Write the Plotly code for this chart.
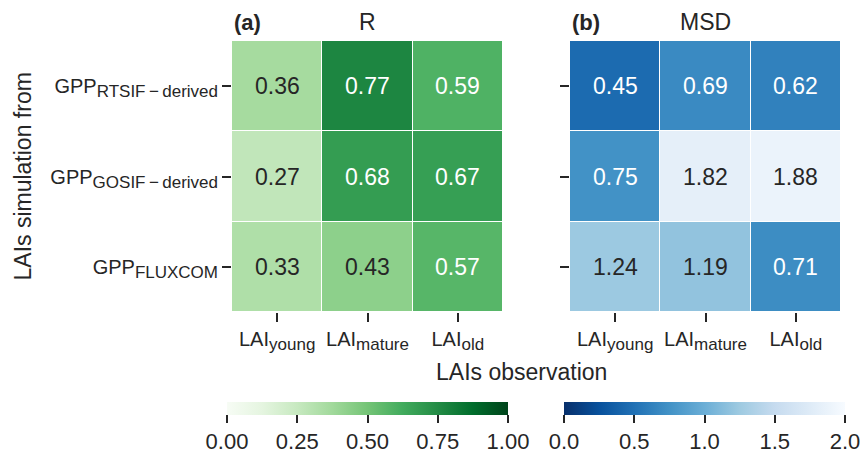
import plotly.graph_objects as go

SUB = "<sub><span style='font-size:17px'>{}</span></sub>"
cols = ["LAI" + SUB.format("young"), "LAI" + SUB.format("mature"), "LAI" + SUB.format("old")]
rows = ["GPP" + SUB.format("RTSIF\u2009\u2212\u2009derived"), "GPP" + SUB.format("GOSIF\u2009\u2212\u2009derived"),
        "GPP" + SUB.format("FLUXCOM")]
R_vals = [[0.36, 0.77, 0.59],
          [0.27, 0.68, 0.67],
          [0.33, 0.43, 0.57]]
MSD_vals = [[0.45, 0.69, 0.62],
            [0.75, 1.82, 1.88],
            [1.24, 1.19, 0.71]]

W, H = 865, 457
L, Rm, T, B = 232, 24, 41, 145
pw = W - L - Rm
ph = H - T - B
FONT = "Liberation Sans, Arial, sans-serif"
DARK = "#262626"


def cbar(cx, length, dtick, fmt):
    return dict(orientation="h", x=(cx - L) / pw, xanchor="center", lenmode="pixels", len=length,
                y=(T + ph - 402) / ph, yanchor="top", thicknessmode="pixels", thickness=13,
                xpad=0, ypad=0, outlinewidth=0, ticks="outside", ticklen=8,
                tickcolor=DARK, tickwidth=1.5, tick0=0, dtick=dtick, tickformat=fmt,
                tickfont=dict(size=22, color=DARK, family=FONT))


fig = go.Figure()
fig.add_trace(go.Heatmap(
    z=R_vals, x=cols, y=rows, colorscale="Greens", zmin=0, zmax=1,
    xgap=1, ygap=1, xaxis="x", yaxis="y", hoverinfo="skip",
    colorbar=cbar((227 + 508) / 2, 281, 0.25, ".2f"),
))
fig.add_trace(go.Heatmap(
    z=MSD_vals, x=cols, y=rows, colorscale="Blues_r", zmin=0, zmax=2,
    xgap=1, ygap=1, xaxis="x2", yaxis="y2", hoverinfo="skip",
    colorbar=cbar((564 + 845) / 2, 281, 0.5, ".1f"),
))

anns = []
for i, r in enumerate(rows):
    for j, c in enumerate(cols):
        v = R_vals[i][j]
        anns.append(dict(x=c, y=r, xref="x", yref="y", text=f"{v:.2f}", showarrow=False,
                         font=dict(size=23, family=FONT, color="white" if v > 0.5 else DARK)))
        v = MSD_vals[i][j]
        anns.append(dict(x=c, y=r, xref="x2", yref="y2", text=f"{v:.2f}", showarrow=False,
                         font=dict(size=23, family=FONT, color="white" if v < 1.0 else DARK)))

ty = (T + ph - 22) / ph
anns += [
    dict(x=0, y=ty, xref="paper", yref="paper", text="<b>(a)</b>", showarrow=False,
         xanchor="left", yanchor="middle", font=dict(size=22, family=FONT, color=DARK)),
    dict(x=(367.5 - L) / pw, y=ty, xref="paper", yref="paper", text="R", showarrow=False,
         xanchor="center", yanchor="middle", font=dict(size=23, family=FONT, color=DARK)),
    dict(x=(570 - L) / pw, y=ty, xref="paper", yref="paper", text="<b>(b)</b>", showarrow=False,
         xanchor="left", yanchor="middle", font=dict(size=22, family=FONT, color=DARK)),
    dict(x=(705 - L) / pw, y=ty, xref="paper", yref="paper", text="MSD", showarrow=False,
         xanchor="center", yanchor="middle", font=dict(size=23, family=FONT, color=DARK)),
    dict(x=(22 - L) / pw, y=0.5, xref="paper", yref="paper", text="LAIs simulation from",
         textangle=-90, showarrow=False, xanchor="center", yanchor="middle",
         font=dict(size=23, family=FONT, color=DARK)),
    dict(x=(521 - L) / pw, y=(T + ph - 372) / ph, xref="paper", yref="paper",
         text="LAIs observation", showarrow=False, xanchor="center", yanchor="middle",
         font=dict(size=23, family=FONT, color=DARK)),
]

axis_common = dict(showgrid=False, zeroline=False, showline=False, ticks="outside",
                   ticklen=9, tickwidth=1.5, tickcolor=DARK,
                   tickfont=dict(size=20, family=FONT, color=DARK))
fig.update_layout(
    width=W, height=H, margin=dict(l=L, r=Rm, t=T, b=B, autoexpand=False),
    paper_bgcolor="white", plot_bgcolor="white",
    font=dict(family=FONT, color=DARK),
    xaxis=dict(domain=[0, 271 / pw], anchor="y", **axis_common),
    yaxis=dict(domain=[0, 1], anchor="x", autorange="reversed", **axis_common),
    xaxis2=dict(domain=[338 / pw, 1], anchor="y2", **axis_common),
    yaxis2=dict(domain=[0, 1], anchor="x2", autorange="reversed", showticklabels=False,
                **axis_common),
    annotations=anns,
    showlegend=False,
)
fig.write_html("out.html")
